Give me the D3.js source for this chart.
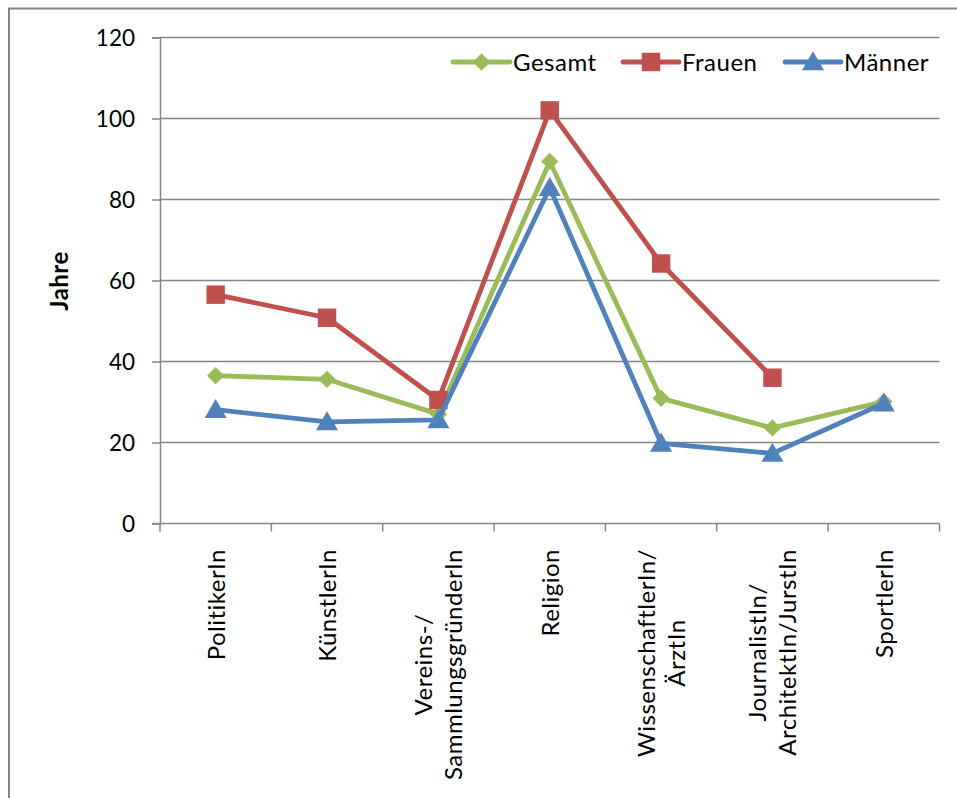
<!DOCTYPE html>
<html>
<head>
<meta charset="utf-8">
<script src="https://cdn.jsdelivr.net/npm/d3@7"></script>
<style>
  html, body { margin: 0; padding: 0; background: #ffffff; }
  svg { display: block; font-family: Lato, "Open Sans", sans-serif; }
</style>
</head>
<body>
<svg id="chart" width="957" height="798"></svg>
<script>
// Kategorien (mehrzeilige Beschriftungen als Zeilenlisten)
const categories = [
  ["PolitikerIn"],
  ["KünstlerIn"],
  ["Vereins-/", "SammlungsgründerIn"],
  ["Religion"],
  ["WissenschaftlerIn/", "ÄrztIn"],
  ["JournalistIn/", "ArchitektIn/JurstIn"],
  ["SportlerIn"]
];
const categoryKeys = categories.map(c => c.join(" "));

// Werte in Jahren
const gesamt = [36.5, 35.6, 27.0, 89.4, 30.9, 23.6, 30.1];
const frauen = [56.5, 50.8, 30.5, 102.0, 64.2, 36.0, null];
const maenner = [28.1, 25.1, 25.6, 82.9, 19.8, 17.3, 29.7];

const yTicks = [0, 20, 40, 60, 80, 100, 120];
const yTitle = "Jahre";

const series = [
  { name: "Gesamt", values: gesamt,  color: "#9BBB59", symbol: d3.symbolDiamond2 },
  { name: "Frauen", values: frauen,  color: "#C0504D", symbol: d3.symbolSquare },
  { name: "Männer", values: maenner, color: "#4F81BD", symbol: d3.symbolTriangle }
];

const svg = d3.select("#chart");
const plot = { left: 160, right: 939.5, top: 37.5, bottom: 523.5 };
const gridColor = "#868686";
const tickFont = 22.5;
const labelFont = 24;
const labelSpacing = 0.5;

// Rahmen des Diagrammbereichs
svg.append("rect")
  .attr("x", 9).attr("y", 8.5)
  .attr("width", 1000).attr("height", 1000)
  .attr("fill", "none").attr("stroke", gridColor).attr("stroke-width", 2);

const x = d3.scaleBand().domain(categoryKeys).range([plot.left, plot.right]).padding(0);
const cx = k => x(k) + x.bandwidth() / 2;
const y = d3.scaleLinear().domain([0, 120]).range([plot.bottom, plot.top]);

// Gitterlinien
svg.append("g")
  .selectAll("line")
  .data(yTicks.filter(t => t > 0))
  .join("line")
  .attr("x1", plot.left).attr("x2", plot.right)
  .attr("y1", d => y(d)).attr("y2", d => y(d))
  .attr("stroke", gridColor).attr("stroke-width", 1.5);

// y-Achse
const yAxis = svg.append("g")
  .attr("transform", `translate(${plot.left},0)`)
  .call(d3.axisLeft(y).tickValues(yTicks).tickSize(8).tickPadding(17).tickFormat(d3.format("d")));
yAxis.select(".domain").attr("stroke", gridColor).attr("stroke-width", 1.5);
yAxis.selectAll(".tick line").attr("stroke", gridColor).attr("stroke-width", 1.5);
yAxis.selectAll(".tick text")
  .attr("font-size", tickFont).attr("font-family", "Lato, sans-serif")
  .attr("fill", "#000").attr("dy", "0.36em");

// x-Achse mit Teilstrichen an den Kategoriegrenzen
const xg = svg.append("g");
xg.append("line")
  .attr("x1", plot.left - 8).attr("x2", plot.right)
  .attr("y1", plot.bottom).attr("y2", plot.bottom)
  .attr("stroke", gridColor).attr("stroke-width", 1.5);
const edges = categoryKeys.map(k => x(k)).concat([plot.right]);
xg.selectAll("line.tick")
  .data(edges)
  .join("line")
  .attr("class", "tick")
  .attr("x1", d => d).attr("x2", d => d)
  .attr("y1", plot.bottom).attr("y2", plot.bottom + 8)
  .attr("stroke", gridColor).attr("stroke-width", 1.5);

// Kategorienbeschriftungen (um 90° gedreht)
const labelTop = 549;
const lineGap = 30;
categories.forEach((lines, i) => {
  const k = categoryKeys[i];
  const c = cx(k);
  const g = xg.append("g");
  const texts = lines.map((ln, j) => g.append("text")
    .text(ln)
    .attr("font-size", labelFont)
    .attr("letter-spacing", labelSpacing)
    .attr("fill", "#000")
    .attr("text-anchor", "middle"));
  const maxLen = d3.max(texts, t => t.node().getComputedTextLength());
  const midY = labelTop + maxLen / 2;
  texts.forEach((t, j) => {
    const bx = c + 9 + (j - (lines.length - 1) / 2) * lineGap;
    t.attr("transform", `translate(${bx},${midY}) rotate(-90)`);
  });
});

// y-Achsentitel
svg.append("text")
  .text(yTitle)
  .attr("font-size", 24).attr("font-weight", "bold").attr("fill", "#000")
  .attr("letter-spacing", 0.5)
  .attr("text-anchor", "middle")
  .attr("transform", `translate(68,281) rotate(-90)`);

// Linien und Markierungen
const markerSize = { "Gesamt": 190, "Frauen": 340, "Männer": 210 };
series.forEach(s => {
  const line = d3.line()
    .defined(d => d != null)
    .x((d, i) => cx(categoryKeys[i]))
    .y(d => y(d));
  const g = svg.append("g");
  g.append("path")
    .datum(s.values)
    .attr("d", line)
    .attr("fill", "none")
    .attr("stroke", s.color)
    .attr("stroke-width", 4.8)
    .attr("stroke-linejoin", "round")
    .attr("stroke-linecap", "round");
  const sym = d3.symbol().type(s.symbol).size(markerSize[s.name]);
  g.selectAll("path.marker")
    .data(s.values.map((v, i) => ({ v, i })).filter(d => d.v != null))
    .join("path")
    .attr("class", "marker")
    .attr("d", sym)
    .attr("fill", s.color)
    .attr("transform", d => {
      const dy = s.symbol === d3.symbolTriangle ? 2 : 0;
      return `translate(${cx(categoryKeys[d.i])},${y(d.v) + dy})`;
    });
});

// Legende
const legendItems = [
  { x0: 453, x1: 510 },
  { x0: 623, x1: 679 },
  { x0: 785, x1: 841 }
];
const legendY = 62;
series.forEach((s, i) => {
  const it = legendItems[i];
  const g = svg.append("g");
  g.append("line")
    .attr("x1", it.x0).attr("x2", it.x1)
    .attr("y1", legendY).attr("y2", legendY)
    .attr("stroke", s.color).attr("stroke-width", 4.8)
    .attr("stroke-linecap", "round");
  const dy = s.symbol === d3.symbolTriangle ? 2 : 0;
  g.append("path")
    .attr("d", d3.symbol().type(s.symbol).size(markerSize[s.name]))
    .attr("fill", s.color)
    .attr("transform", `translate(${(it.x0 + it.x1) / 2},${legendY + dy})`);
  g.append("text")
    .text(s.name)
    .attr("x", it.x1 + 3).attr("y", legendY)
    .attr("dy", "0.36em")
    .attr("font-size", labelFont)
    .attr("letter-spacing", labelSpacing)
    .attr("fill", "#000");
});
</script>
</body>
</html>
